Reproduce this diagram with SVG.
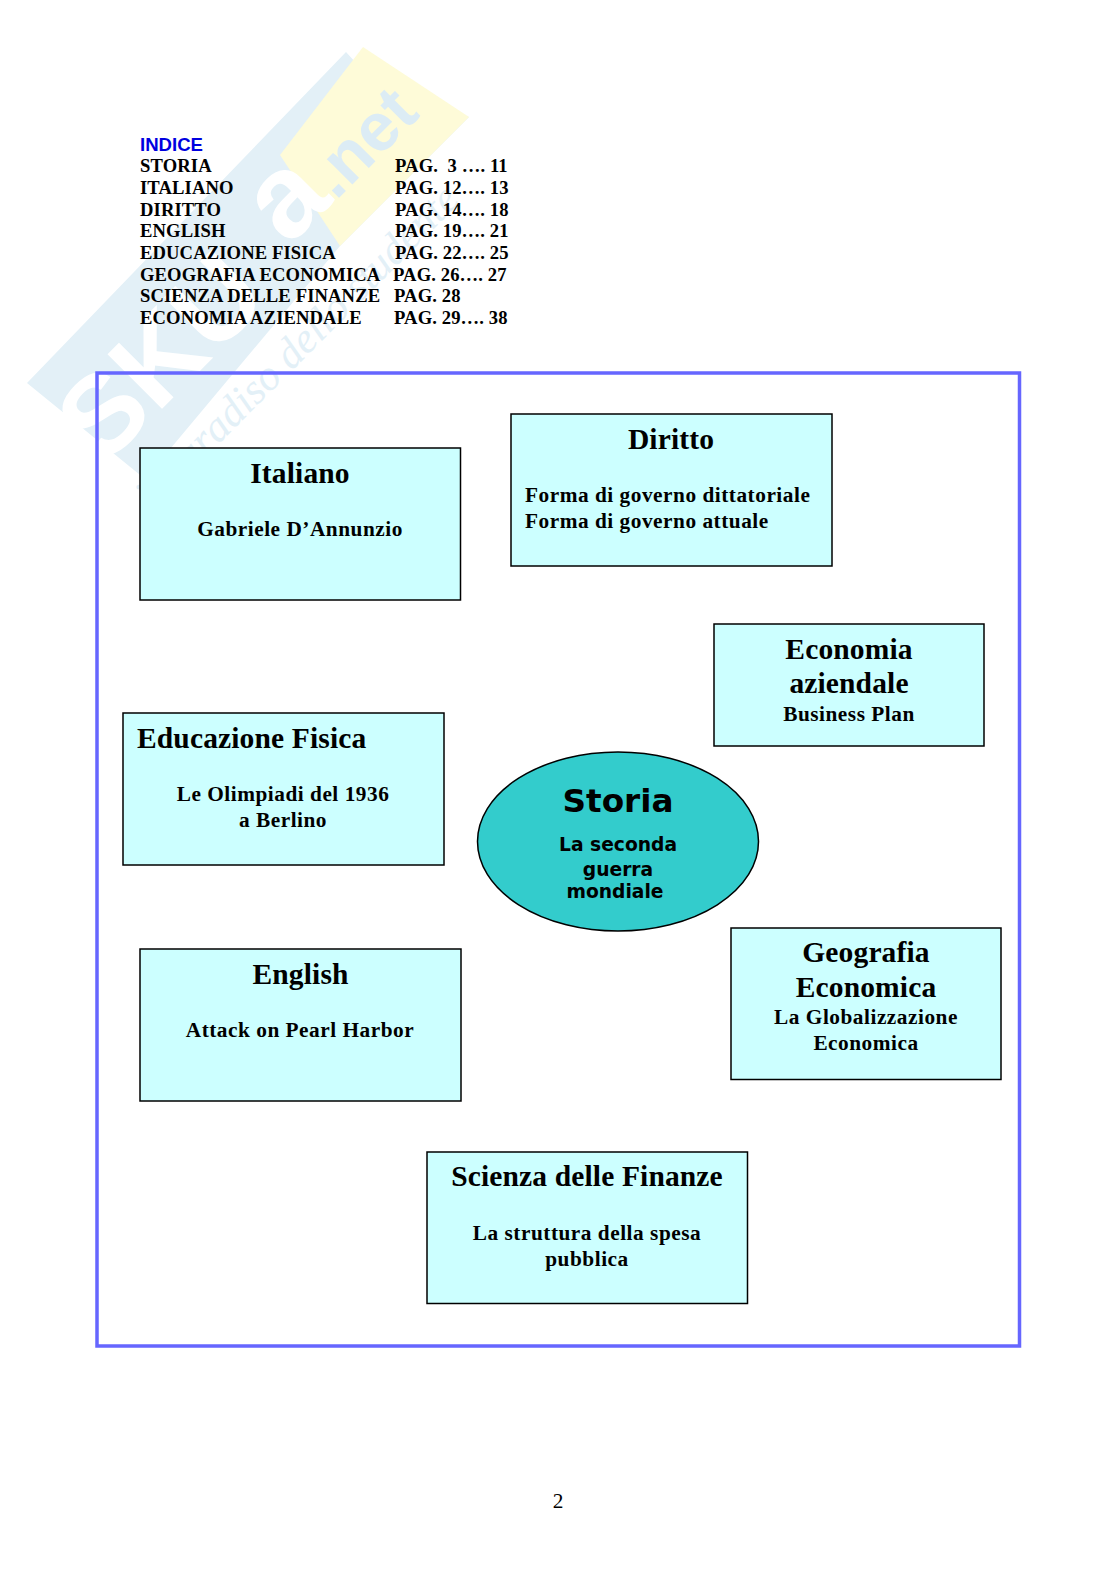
<svg xmlns="http://www.w3.org/2000/svg" width="1116" height="1579" viewBox="0 0 1116 1579">
<style>
.s{font-family:"Liberation Serif",serif;font-weight:bold;fill:#000}
.t{font-size:29.5px;text-anchor:middle;letter-spacing:.14px}
.b{font-size:21.3px;text-anchor:middle;letter-spacing:.52px}
.i{font-size:18.6px;letter-spacing:.12px}
.box{fill:#ccffff;stroke:#000;stroke-width:1.5}
.d{font-family:"DejaVu Sans",sans-serif;font-weight:bold;text-anchor:middle;fill:#000}
.l{font-family:"Liberation Sans",sans-serif;font-weight:bold}
</style>
<rect width="1116" height="1579" fill="#fff"/>
<g id="watermark">
<polygon points="27,383 346,52 368,76 469,117 340,246 145,479" fill="#e3f0f7"/>
<polygon points="280,155 363,47 469,117 340,246" fill="#fefbd8"/>
<g transform="rotate(-45 200 300)">
<text class="l" x="14" y="350" font-size="112" fill="#fff">SKU</text>
<text class="l" x="300" y="325" font-size="118" fill="#fff">a</text>
<text class="l" x="366" y="326" font-size="68" fill="#dcecf5">.net</text>
<text x="16" y="415" font-family="Liberation Serif,serif" font-style="italic" font-size="43" fill="#e3f0f7">il paradiso dello studente</text>
</g>
</g>
<g id="indice">
<text x="140" y="151" class="l" font-size="18.6" fill="#0000e0">INDICE</text>
<g class="s i">
<text x="140" y="172">STORIA</text><text x="395" y="172">PAG.&#160; 3 …. 11</text>
<text x="140" y="194">ITALIANO</text><text x="395" y="194">PAG. 12…. 13</text>
<text x="140" y="216">DIRITTO</text><text x="395" y="216">PAG. 14…. 18</text>
<text x="140" y="237">ENGLISH</text><text x="395" y="237">PAG. 19…. 21</text>
<text x="140" y="259">EDUCAZIONE FISICA</text><text x="395" y="259">PAG. 22…. 25</text>
<text x="140" y="281">GEOGRAFIA ECONOMICA</text><text x="393" y="281">PAG. 26…. 27</text>
<text x="140" y="302">SCIENZA DELLE FINANZE</text><text x="394" y="302">PAG. 28</text>
<text x="140" y="324">ECONOMIA AZIENDALE</text><text x="394" y="324">PAG. 29…. 38</text>
</g></g>
<rect id="frame" x="97" y="373" width="922.500" height="973" fill="none" stroke="#6666ff" stroke-width="3.5"/>
<g id="italiano" class="s"><rect class="box" x="140" y="448" width="320.500" height="152"/><text class="t" x="300" y="482.500">Italiano</text><text class="b" x="300" y="536">Gabriele D’Annunzio</text></g>
<g id="diritto" class="s"><rect class="box" x="511" y="414" width="321" height="152"/><text class="t" x="671" y="449">Diritto</text><text class="b" x="525" y="502" style="text-anchor:start">Forma di governo dittatoriale</text><text class="b" x="525" y="528" style="text-anchor:start">Forma di governo attuale</text></g>
<g id="economia" class="s"><rect class="box" x="714" y="624" width="270" height="122"/><text class="t" x="849" y="659">Economia</text><text class="t" x="849" y="693">aziendale</text><text class="b" x="849" y="721">Business Plan</text></g>
<g id="educazione" class="s"><rect class="box" x="123" y="713" width="321" height="152"/><text class="t" x="137" y="748" style="text-anchor:start">Educazione Fisica</text><text class="b" x="283" y="801">Le Olimpiadi del 1936</text><text class="b" x="283" y="827">a Berlino</text></g>
<g id="storia"><ellipse cx="618" cy="841.500" rx="140.500" ry="89.500" fill="#33cccc" stroke="#000" stroke-width="1.500"/><text class="d" x="618" y="812" font-size="32.700">Storia</text><text class="d" x="618" y="851" font-size="18.700">La seconda</text><text class="d" x="618" y="876" font-size="18.700">guerra</text><text class="d" x="615" y="898" font-size="18.700">mondiale</text></g>
<g id="geografia" class="s"><rect class="box" x="731" y="928" width="270" height="151.500"/><text class="t" x="866" y="962">Geografia</text><text class="t" x="866" y="997">Economica</text><text class="b" x="866" y="1024">La Globalizzazione</text><text class="b" x="866" y="1050">Economica</text></g>
<g id="english" class="s"><rect class="box" x="140" y="949" width="321" height="152"/><text class="t" x="300.500" y="984">English</text><text class="b" x="300" y="1037">Attack on Pearl Harbor</text></g>
<g id="scienza" class="s"><rect class="box" x="427" y="1152" width="320.500" height="151.500"/><text class="t" x="587" y="1186">Scienza delle Finanze</text><text class="b" x="587" y="1240">La struttura della spesa</text><text class="b" x="587" y="1266">pubblica</text></g>
<text id="page" x="558" y="1508" font-family="Liberation Serif,serif" font-size="21.300" text-anchor="middle">2</text>
</svg>
